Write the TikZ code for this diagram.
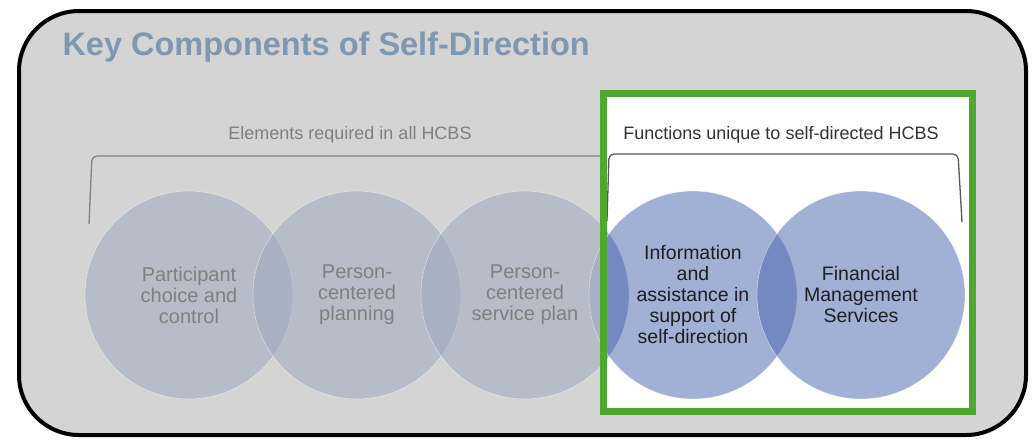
\documentclass[tikz,border=0pt]{standalone}
\usepackage{fontspec}
\setmainfont{Liberation Sans}
\usetikzlibrary{positioning}

\definecolor{panelgray}{RGB}{212,212,212}
\definecolor{titleblue}{RGB}{127,151,175}
\definecolor{circgray}{RGB}{153,163,190}
\definecolor{circblue}{RGB}{71,99,173}
\definecolor{txtgray}{RGB}{128,128,128}
\definecolor{txtdark}{RGB}{30,30,35}
\definecolor{framegreen}{RGB}{78,167,46}

\begin{document}
\begin{tikzpicture}[x=1pt,y=-1pt,
                panel/.style={draw=black, line width=4pt, fill=panelgray,
                rounded corners=60pt},
                gray circ/.style={circle, minimum size=208pt, inner sep=0pt,
                outer sep=0pt, fill=circgray, fill opacity=0.48, text opacity=1,
                draw=white, draw opacity=0.5, line width=0.6pt, text=txtgray,
                align=center, font=\fontsize{20}{21}\selectfont},
                blue circ/.style={gray circ, fill=circblue, fill opacity=0.5,
                text=txtdark, font=\fontsize{19.5}{21}\selectfont},
                % brackets and their headings
                bracket/.style={line width=1.3pt, rounded corners=5pt},
                head/.style={anchor=base, font=\fontsize{18}{20}\selectfont},
                green frame/.style={draw=framegreen, line width=7pt}
                ]
\useasboundingbox (0,0) rectangle (1035,440);

%% Background panel and title
\draw[panel] (19,11) rectangle (1026,435);
\node (title) at (59,55) [anchor=base west, text=titleblue,
      font=\fontsize{32.5}{38}\selectfont\bfseries] {Key Components of Self-Direction};

%% Elements required in all HCBS
\node (c1) at (189,295) [gray circ] {Participant\\choice and\\control};
\node (c2) [gray circ, right=-40pt of c1] {Person-\\centered\\planning};
\node (c3) [gray circ, right=-40pt of c2] {Person-\\centered\\service plan};
\node (c4) [gray circ, right=-40pt of c3] {};

\draw[bracket, draw=txtgray] (89,224) -- (92,156) -- (606,156);
\node (allhcbs) at (350,139) [head, text=txtgray] {Elements required in all HCBS};

%%
%%%% Functions unique to self-directed HCBS
\fill[white] (603,93) rectangle (972,411);
\begin{scope}
  \clip (603,93) rectangle (972,411);
  \node (b3) at (c3) [blue circ] {};
  \node (b4) at (c4) [blue circ] {Information\\and\\assistance in\\support of\\self-direction};
  \node (b5) [blue circ, right=-40pt of b4] {Financial\\Management\\Services};
\end{scope}

\draw[bracket, draw=black!65] (607,221) -- (609,154) -- (958,154) -- (962,222);
\node (selfhcbs) at (781,139) [head, text=black!80] {Functions unique to self-directed HCBS};

%% Highlight frame
\draw[green frame] (603,93) rectangle (972,411);

\end{tikzpicture}
\end{document}
